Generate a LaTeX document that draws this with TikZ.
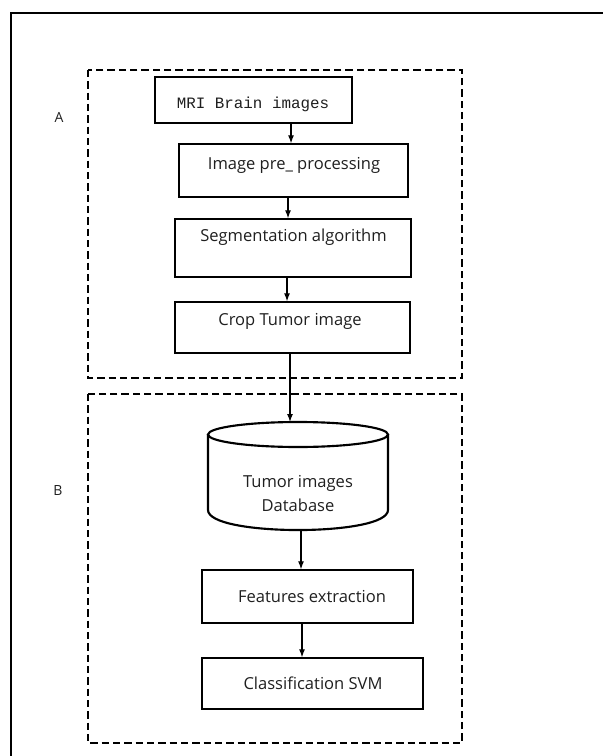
\documentclass[tikz,border=0pt]{standalone}
\usepackage{fontspec}
\setmainfont{Open Sans}
\newfontfamily\monofam{Liberation Mono}
\usetikzlibrary{arrows.meta,calc}

\tikzset{
  stepbox/.style={draw=black, line width=1pt, rectangle, inner sep=0pt},
  txt/.style={font=\fontsize{12.4}{14}\selectfont, text=black!88, inner sep=0pt},
  monotxt/.style={font=\monofam\fontsize{11.9}{14}\selectfont, text=black!88, inner sep=0pt},
  side/.style={font=\fontsize{10.5}{12}\selectfont, text=black!88, inner sep=0pt},
  groupbox/.style={draw=black, line width=2.2pt, dash pattern=on 5.5pt off 3pt},
  frame/.style={draw=black, line width=1.6pt},
  arr/.style={draw=black, line width=0.9pt, -{Latex[length=6pt,width=4.5pt]}},
  cyl/.style={draw=black, line width=1.6pt}
}

\begin{document}
\begin{tikzpicture}[x=0.75pt, y=-0.75pt]
  \useasboundingbox (0,0) rectangle (603,756);

  % outer frame (top and left edges)
  \draw[frame] (11,756) |- (603,13);

  % group outlines
  \draw[groupbox] (88,70) rectangle (462,378);
  \draw[groupbox] (88,394) rectangle (462,743);
  \node[side] (la) at (59,117) {A};
  \node[side] (lb) at (58,490) {B};

  % stage A boxes
  \node[stepbox, minimum width=147.75pt, minimum height=34.5pt] (b1) at (253.5,100) {};
  \node[monotxt] at (253,104) {MRI Brain images};
  \node[stepbox, minimum width=171.75pt, minimum height=39.75pt] (b2) at (293.5,170.5) {};
  \node[txt] at (294,165) {Image pre\_ processing};
  \node[stepbox, minimum width=177pt, minimum height=43.5pt] (b3) at (293,248) {};
  \node[txt] at (293.5,237) {Segmentation algorithm};
  \node[stepbox, minimum width=176.25pt, minimum height=38.25pt] (b4) at (292.5,327.5) {};
  \node[txt] at (290,321) {Crop Tumor image};

  % database cylinder
  \node[inner sep=0pt, minimum width=135pt, minimum height=81pt] (db) at (298,476) {};
  \draw[cyl] (298,434.5) ellipse [x radius=90, y radius=12.5];
  \draw[cyl] (208,434.5) -- (208,510)
        .. controls (208,536.7) and (388,536.7) .. (388,510) -- (388,434.5);
  \node[txt] at (298,483) {Tumor images};
  \node[txt] at (298,505) {Database};

  % stage B boxes
  \node[stepbox, minimum width=158.25pt, minimum height=39.75pt] (b5) at (307.5,596.5) {};
  \node[txt] at (312,597) {Features extraction};
  \node[stepbox, minimum width=165.75pt, minimum height=38.25pt] (b6) at (312.5,683.5) {};
  \node[txt] at (313,683) {Classification SVM};

  % connector columns
  \coordinate (c1) at (291,0);
  \coordinate (c2) at (288,0);
  \coordinate (c3) at (287,0);
  \coordinate (c4) at (290,0);
  \coordinate (c5) at (301,0);
  \coordinate (c6) at (302,0);
  \coordinate (dbtop) at (290,422);
  \coordinate (dbbot) at (301,530);

  \draw[arr] (b1.south -| c1) -- (b2.north -| c1);
  \draw[arr] (b2.south -| c2) -- (b3.north -| c2);
  \draw[arr] (b3.south -| c3) -- (b4.north -| c3);
  \draw[arr] (b4.south -| c4) -- (dbtop);
  \draw[arr] (dbbot) -- (b5.north -| c5);
  \draw[arr] (b5.south -| c6) -- (b6.north -| c6);
\end{tikzpicture}
\end{document}
